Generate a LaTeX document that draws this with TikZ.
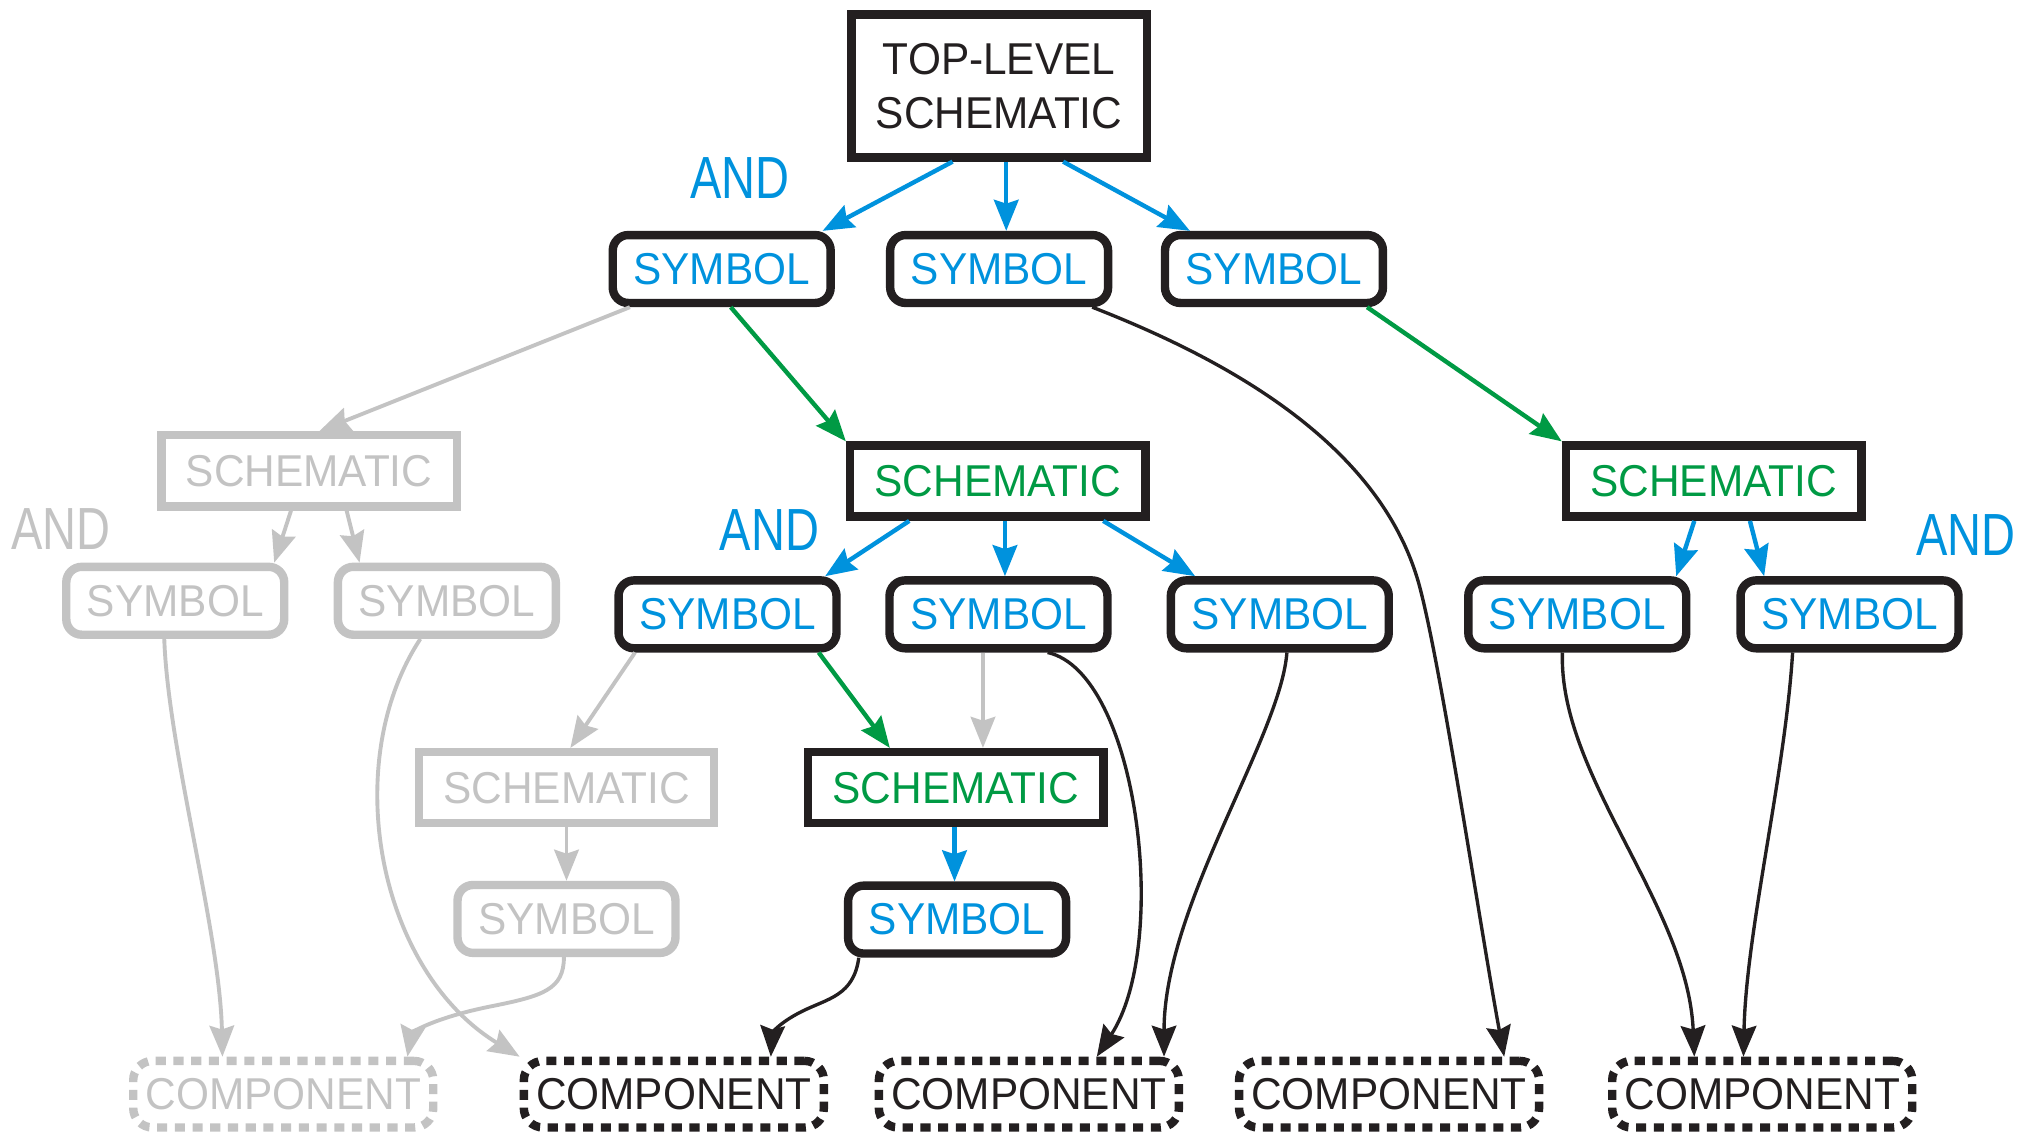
\documentclass[tikz,border=0pt]{standalone}
\usepackage{fontspec}
\setmainfont{Liberation Sans}[FakeStretch=0.95]
\newfontfamily\andfont{Liberation Sans}[FakeStretch=0.79]
\usetikzlibrary{arrows.meta}
\definecolor{cblue}{RGB}{0,146,221}
\definecolor{cgreen}{RGB}{0,154,68}
\definecolor{cgray}{RGB}{195,195,195}
\definecolor{cblack}{RGB}{35,31,32}
\tikzset{
 base/.style={line width=6.5pt, inner sep=0pt, font=\fontsize{34.5}{42}\selectfont},
 topbox/.style={base, draw=cblack, minimum width=228.5pt, minimum height=110.5pt, align=center, text=cblack},
 sym/.style={base, draw=cblack, rounded corners=12pt, minimum width=168.5pt, minimum height=52.5pt, text=cblue},
 gsym/.style={sym, draw=cgray, text=cgray},
 sch/.style={base, draw=cblack, minimum width=228.5pt, minimum height=55pt, text=cgreen},
 gsch/.style={sch, draw=cgray, text=cgray},
 comp/.style={base, draw=cblack, dash pattern=on 7.8pt off 5.9pt, rounded corners=15pt, minimum width=232pt, minimum height=51.5pt, text=cblack},
 gcomp/.style={comp, draw=cgray, text=cgray},
 andlbl/.style={font=\andfont\fontsize{46}{50}\selectfont, text=cblue, inner sep=0pt},
 gandlbl/.style={andlbl, text=cgray},
 tipx/.style={-{Stealth[length=24pt,width=19pt,inset=3pt]}},
 barrow/.style={tipx, draw=cblue, line width=3.4pt},
 grarrow/.style={tipx, draw=cgreen, line width=3.4pt},
 gyarrow/.style={tipx, draw=cgray, line width=3pt},
 bkarrow/.style={tipx, draw=cblack, line width=2.6pt},
}
\begin{document}
\begin{tikzpicture}[x=1pt, y=-1pt]
\useasboundingbox (0,0) rectangle (1568,877);
% nodes
\node[topbox] (TL) at (772.5,66.5) {TOP-LEVEL\\SCHEMATIC};
\node[andlbl] (and1) at (572,138) {AND};
\node[sym] (S1) at (558,208) {SYMBOL};
\node[sym] (S2) at (772.5,208) {SYMBOL};
\node[sym] (S3) at (985,208) {SYMBOL};
\node[gsch] (G1) at (239,364) {SCHEMATIC};
\node[sch] (C1) at (771.5,372) {SCHEMATIC};
\node[sch] (C3) at (1325,372) {SCHEMATIC};
\node[gandlbl] (and2) at (47,409) {AND};
\node[andlbl] (and3) at (595,410) {AND};
\node[andlbl] (and4) at (1520,414) {AND};
\node[gsym] (GS1) at (135.5,464.5) {SYMBOL};
\node[gsym] (GS2) at (345.5,464.5) {SYMBOL};
\node[sym] (S4) at (562.5,475) {SYMBOL};
\node[sym] (S5) at (772,475) {SYMBOL};
\node[sym] (S6) at (989.5,475) {SYMBOL};
\node[sym] (S7) at (1219.5,475) {SYMBOL};
\node[sym] (S8) at (1430,475) {SYMBOL};
\node[gsch] (G2) at (438,609) {SCHEMATIC};
\node[sch] (C2) at (739,609) {SCHEMATIC};
\node[gsym] (GS3) at (438,710.5) {SYMBOL};
\node[sym] (S9) at (740,711) {SYMBOL};
\node[gcomp] (K1) at (219,846) {COMPONENT};
\node[comp] (K2) at (521,846) {COMPONENT};
\node[comp] (K3) at (795.5,846) {COMPONENT};
\node[comp] (K4) at (1074,846) {COMPONENT};
\node[comp] (K5) at (1362.5,846) {COMPONENT};
% blue connectors
\draw[barrow] ([xshift=-36pt]TL.south) -- ([xshift=78pt]S1.north);
\draw[barrow] ([xshift=5.5pt]TL.south) -- ([xshift=5.5pt]S2.north);
\draw[barrow] ([xshift=49.5pt]TL.south) -- ([xshift=-65pt]S3.north);
\draw[barrow] ([xshift=-68.5pt]C1.south) -- ([xshift=75.5pt]S4.north);
\draw[barrow] ([xshift=5.5pt]C1.south) -- ([xshift=5pt]S5.north);
\draw[barrow] ([xshift=81.5pt]C1.south) -- ([xshift=-65.5pt]S6.north);
\draw[barrow] ([xshift=-15pt]C3.south) -- ([xshift=76.5pt]S7.north);
\draw[barrow] ([xshift=28pt]C3.south) -- ([xshift=-66pt]S8.north);
\draw[barrow] ([xshift=-1pt]C2.south) -- ([xshift=-2pt]S9.north);
% green connectors
\draw[grarrow] ([xshift=7pt]S1.south) -- (C1.north west);
\draw[grarrow] ([xshift=72pt]S3.south) -- (C3.north west);
\draw[grarrow] ([xshift=70.5pt]S4.south) -- ([xshift=-51pt]C2.north);
% gray connectors
\draw[gyarrow] ([xshift=-71pt]S1.south) -- ([xshift=8pt]G1.north);
\draw[gyarrow] ([xshift=-14pt]G1.south) -- ([xshift=76.5pt]GS1.north);
\draw[gyarrow] ([xshift=29pt]G1.south) -- ([xshift=-67.5pt]GS2.north);
\draw[gyarrow] ([xshift=-8.5pt]GS1.south) .. controls (130,580) and (170,720) .. ([xshift=-47pt]K1.north);
\draw[gyarrow] ([xshift=-20.5pt]GS2.south) .. controls (262,590) and (292,750) .. (K2.north west);
\draw[gyarrow] ([xshift=-71.5pt]S4.south) -- ([xshift=3pt]G2.north);
\draw[gyarrow] ([xshift=-12pt]S5.south) -- ([xshift=21pt]C2.north);
\draw[gyarrow] (G2.south) -- (GS3.north);
\draw[gyarrow] ([xshift=-2pt]GS3.south) .. controls (436,765) and (420,770) .. (380,778) .. controls (330,788) and (318,800) .. ([xshift=96pt]K1.north);
% black connectors
\draw[bkarrow] ([xshift=72pt]S2.south) .. controls (938,274) and (1068,339) .. (1098,455) .. controls (1115,520) and (1145,720) .. ([xshift=89pt]K4.north);
\draw[bkarrow] ([xshift=38pt]S5.south) .. controls (880,520) and (905,730) .. ([xshift=52.5pt]K3.north);
\draw[bkarrow] ([xshift=5.5pt]S6.south) .. controls (990,570) and (900,700) .. ([xshift=104.5pt]K3.north);
\draw[bkarrow] ([xshift=-11.5pt]S7.south) .. controls (1205,600) and (1305,700) .. ([xshift=-52.5pt]K5.north);
\draw[bkarrow] ([xshift=-44pt]S8.south) .. controls (1380,600) and (1350,720) .. ([xshift=-14.5pt]K5.north);
\draw[bkarrow] ([xshift=-76pt]S9.south) .. controls (660,770) and (640,772) .. (620,782) .. controls (600,792) and (597,800) .. ([xshift=75pt]K2.north);
\end{tikzpicture}
\end{document}
